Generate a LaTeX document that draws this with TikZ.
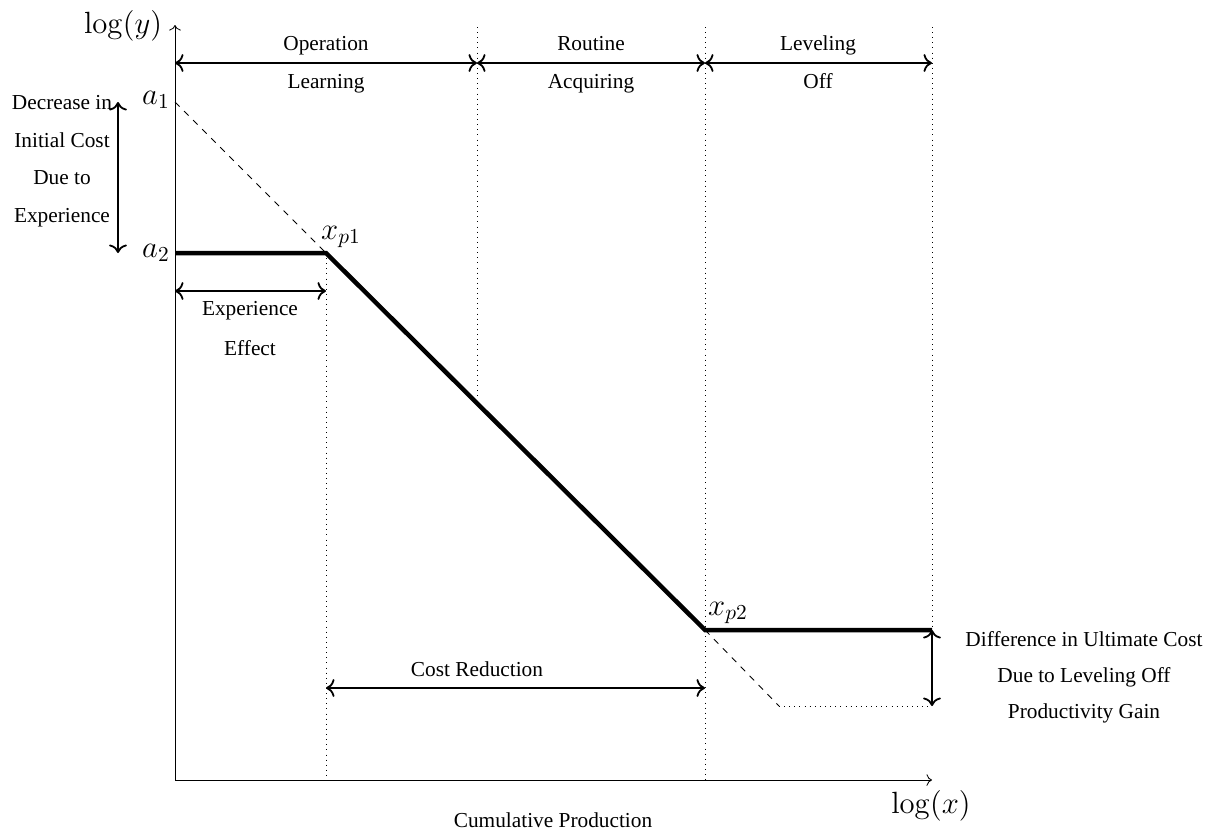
\documentclass[tikz,border=0pt]{standalone}
\usepackage[no-math]{fontspec}
\setmainfont{Liberation Serif}
\usetikzlibrary{arrows.meta}
\begin{document}
\begin{tikzpicture}[x=0.469pt,y=-0.469pt,
  axisline/.style={-{To[scale=1.05]},line width=0.4pt},
  curveline/.style={line width=2.1pt},
  dimline/.style={{To[scale=1.15]}-{To[scale=1.15]},line width=0.85pt},
  guideline/.style={dotted,line width=0.4pt},
  extline/.style={dashed,line width=0.4pt},
  mathlab/.style={font=\Large,inner sep=0pt},
  txt/.style={font=\normalsize,inner sep=0pt,anchor=base},
  blocktxt/.style={font=\normalsize,inner sep=0pt,align=center}]
\useasboundingbox (0,0) rectangle (1214,832);
% key points
\coordinate (O) at (175,780);
\coordinate (Ytop) at (175,25);
\coordinate (Xend) at (932,780);
\coordinate (A1) at (175,102);
\coordinate (A2) at (175,253);
\coordinate (P1) at (326,253);
\coordinate (P2) at (705,630);
\coordinate (E) at (932,630);
\coordinate (M) at (477,404);
\coordinate (D) at (779,706);
\coordinate (F) at (932,706);
\coordinate (T0) at (175,63);
\coordinate (T1) at (477,63);
\coordinate (T2) at (705,63);
\coordinate (T3) at (932,63);
\coordinate (V1) at (477,27);
\coordinate (V2) at (705,27);
\coordinate (V3) at (932,27);
\coordinate (B1) at (326,780);
\coordinate (B2) at (705,780);
\coordinate (L1) at (118,102);
\coordinate (L2) at (118,253);
\coordinate (X0) at (175,291);
\coordinate (X1) at (326,291);
\coordinate (C0) at (326,688);
\coordinate (C1) at (705,688);
% guides
\draw[guideline] (V1) -- (M);
\draw[guideline] (V2) -- (B2);
\draw[guideline] (V3) -- (E);
\draw[guideline] (P1) -- (B1);
\draw[guideline] (D) -- (F);
\draw[extline] (A1) -- (P1);
\draw[extline] (P2) -- (D);
% axes
\draw[axisline] (O) -- (Ytop);
\draw[axisline] (O) -- (Xend);
% curve
\draw[curveline] (A2) -- (P1) -- (P2) -- (E);
% dimension arrows
\draw[dimline] (T0) -- (T1);
\draw[dimline] (T1) -- (T2);
\draw[dimline] (T2) -- (T3);
\draw[dimline] (L1) -- (L2);
\draw[dimline] (X0) -- (X1);
\draw[dimline] (C0) -- (C1);
\draw[dimline] (E) -- (F);
% math labels
\node[mathlab] (ly) at (123,26) {$\log(y)$};
\node[mathlab] (lx) at (931,806) {$\log(x)$};
\node[mathlab] (la1) at (156,100) {$a_1$};
\node[mathlab] (la2) at (156,253) {$a_2$};
\node[mathlab] (lp1) at (341,237) {$x_{p1}$};
\node[mathlab] (lp2) at (728,613) {$x_{p2}$};
% phase labels
\node[txt] (op) at (326,50) {Operation};
\node[txt] (le) at (326,88) {Learning};
\node[txt] (ro) at (591,50) {Routine};
\node[txt] (ac) at (591,88) {Acquiring};
\node[txt] (lv) at (818,50) {Leveling};
\node[txt] (of) at (818,88) {Off};
\node[txt] (ex) at (250,315) {Experience};
\node[txt] (ef) at (250,355) {Effect};
\node[txt] (cr) at (477,676) {Cost Reduction};
\node[txt] (cp) at (553,827) {Cumulative Production};
\node[blocktxt] (dec) at (62,161) {Decrease in\\[5.6pt]Initial Cost\\[5.6pt]Due to\\[5.6pt]Experience};
\node[blocktxt] (dif) at (1084,677) {Difference in Ultimate Cost\\[4.8pt]Due to Leveling Off\\[4.8pt]Productivity Gain};
\end{tikzpicture}
\end{document}
